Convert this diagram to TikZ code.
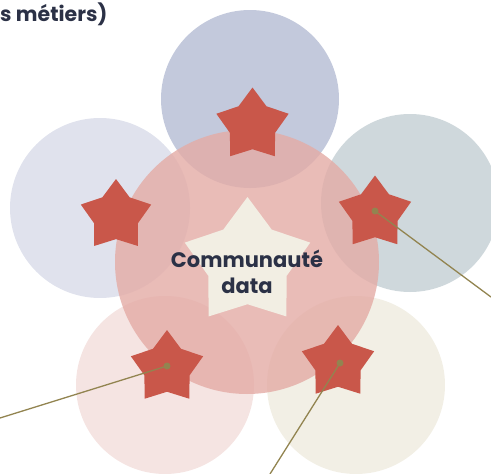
\documentclass[tikz,border=0pt]{standalone}
\usepackage{fontspec}
\setmainfont{Poppins}
\usetikzlibrary{shapes.geometric}
\definecolor{ctop}{RGB}{195,201,220}
\definecolor{cleft}{RGB}{224,226,237}
\definecolor{cright}{RGB}{207,216,220}
\definecolor{cbl}{RGB}{245,228,226}
\definecolor{cbr}{RGB}{242,239,229}
\definecolor{ccenter}{RGB}{228,171,165}
\definecolor{starred}{RGB}{201,87,74}
\definecolor{cream}{RGB}{242,238,227}
\definecolor{navy}{RGB}{43,49,70}
\definecolor{olive}{RGB}{146,132,80}
\tikzset{
  bub/.style={circle, inner sep=0pt, minimum size=178pt},
  rstar/.style={star, star points=5, star point ratio=1.6, inner sep=0pt, minimum size=76pt, fill=starred},
  pin/.style={circle, inner sep=0pt, minimum size=7pt, fill=olive},
  conn/.style={draw=olive, line width=1.3pt},
  lbl/.style={text=navy, font=\bfseries}
}
\begin{document}
\begin{tikzpicture}[x=1pt,y=-1pt]
\useasboundingbox (0,0) rectangle (491,474);
% outer bubbles
\node[bub, fill=ctop] (ctop) at (250,99) {};
\node[bub, fill=cleft, minimum size=180pt] (cleft) at (100,208) {};
\node[bub, fill=cright] (cright) at (410,203) {};
\node[bub, fill=cbl] (cbl) at (165,385) {};
\node[bub, fill=cbr] (cbr) at (356,385) {};
% central bubble
\node[circle, inner sep=0pt, minimum size=264pt, fill=ccenter, fill opacity=0.8] (ccenter) at (247,262) {};
% central star and label
\node[star, star points=5, star point ratio=1.6, inner sep=0pt, minimum size=132pt, fill=cream] (cstar) at (247.5,263) {};
\node[lbl, align=center, font=\bfseries\fontsize{21}{26}\selectfont] (ctext) at (247,272) {Communauté\\data};
% red stars
\node[rstar] (stop) at (252.5,125.5) {};
\node[rstar, minimum size=74pt] (sleft) at (116,216) {};
\node[rstar] (sright) at (375,213.5) {};
\node[rstar] (sbl) at (167,368) {};
\node[rstar] (sbr) at (338,363) {};
% connectors
\coordinate (eright) at (491,297);
\coordinate (ebl) at (0,418);
\coordinate (ebr) at (270,474);
\node[pin] (pright) at (375,211) {};
\node[pin] (pbl) at (167,366) {};
\node[pin] (pbr) at (340,363) {};
\draw[conn] (pright.center) -- (eright);
\draw[conn] (pbl.center) -- (ebl);
\draw[conn] (pbr.center) -- (ebr);
% top-left text fragment
\node[lbl, anchor=base west, inner sep=0pt, font=\bfseries\fontsize{20.5}{24}\selectfont] (ttext) at (0,21) {s métiers)};
\end{tikzpicture}
\end{document}
